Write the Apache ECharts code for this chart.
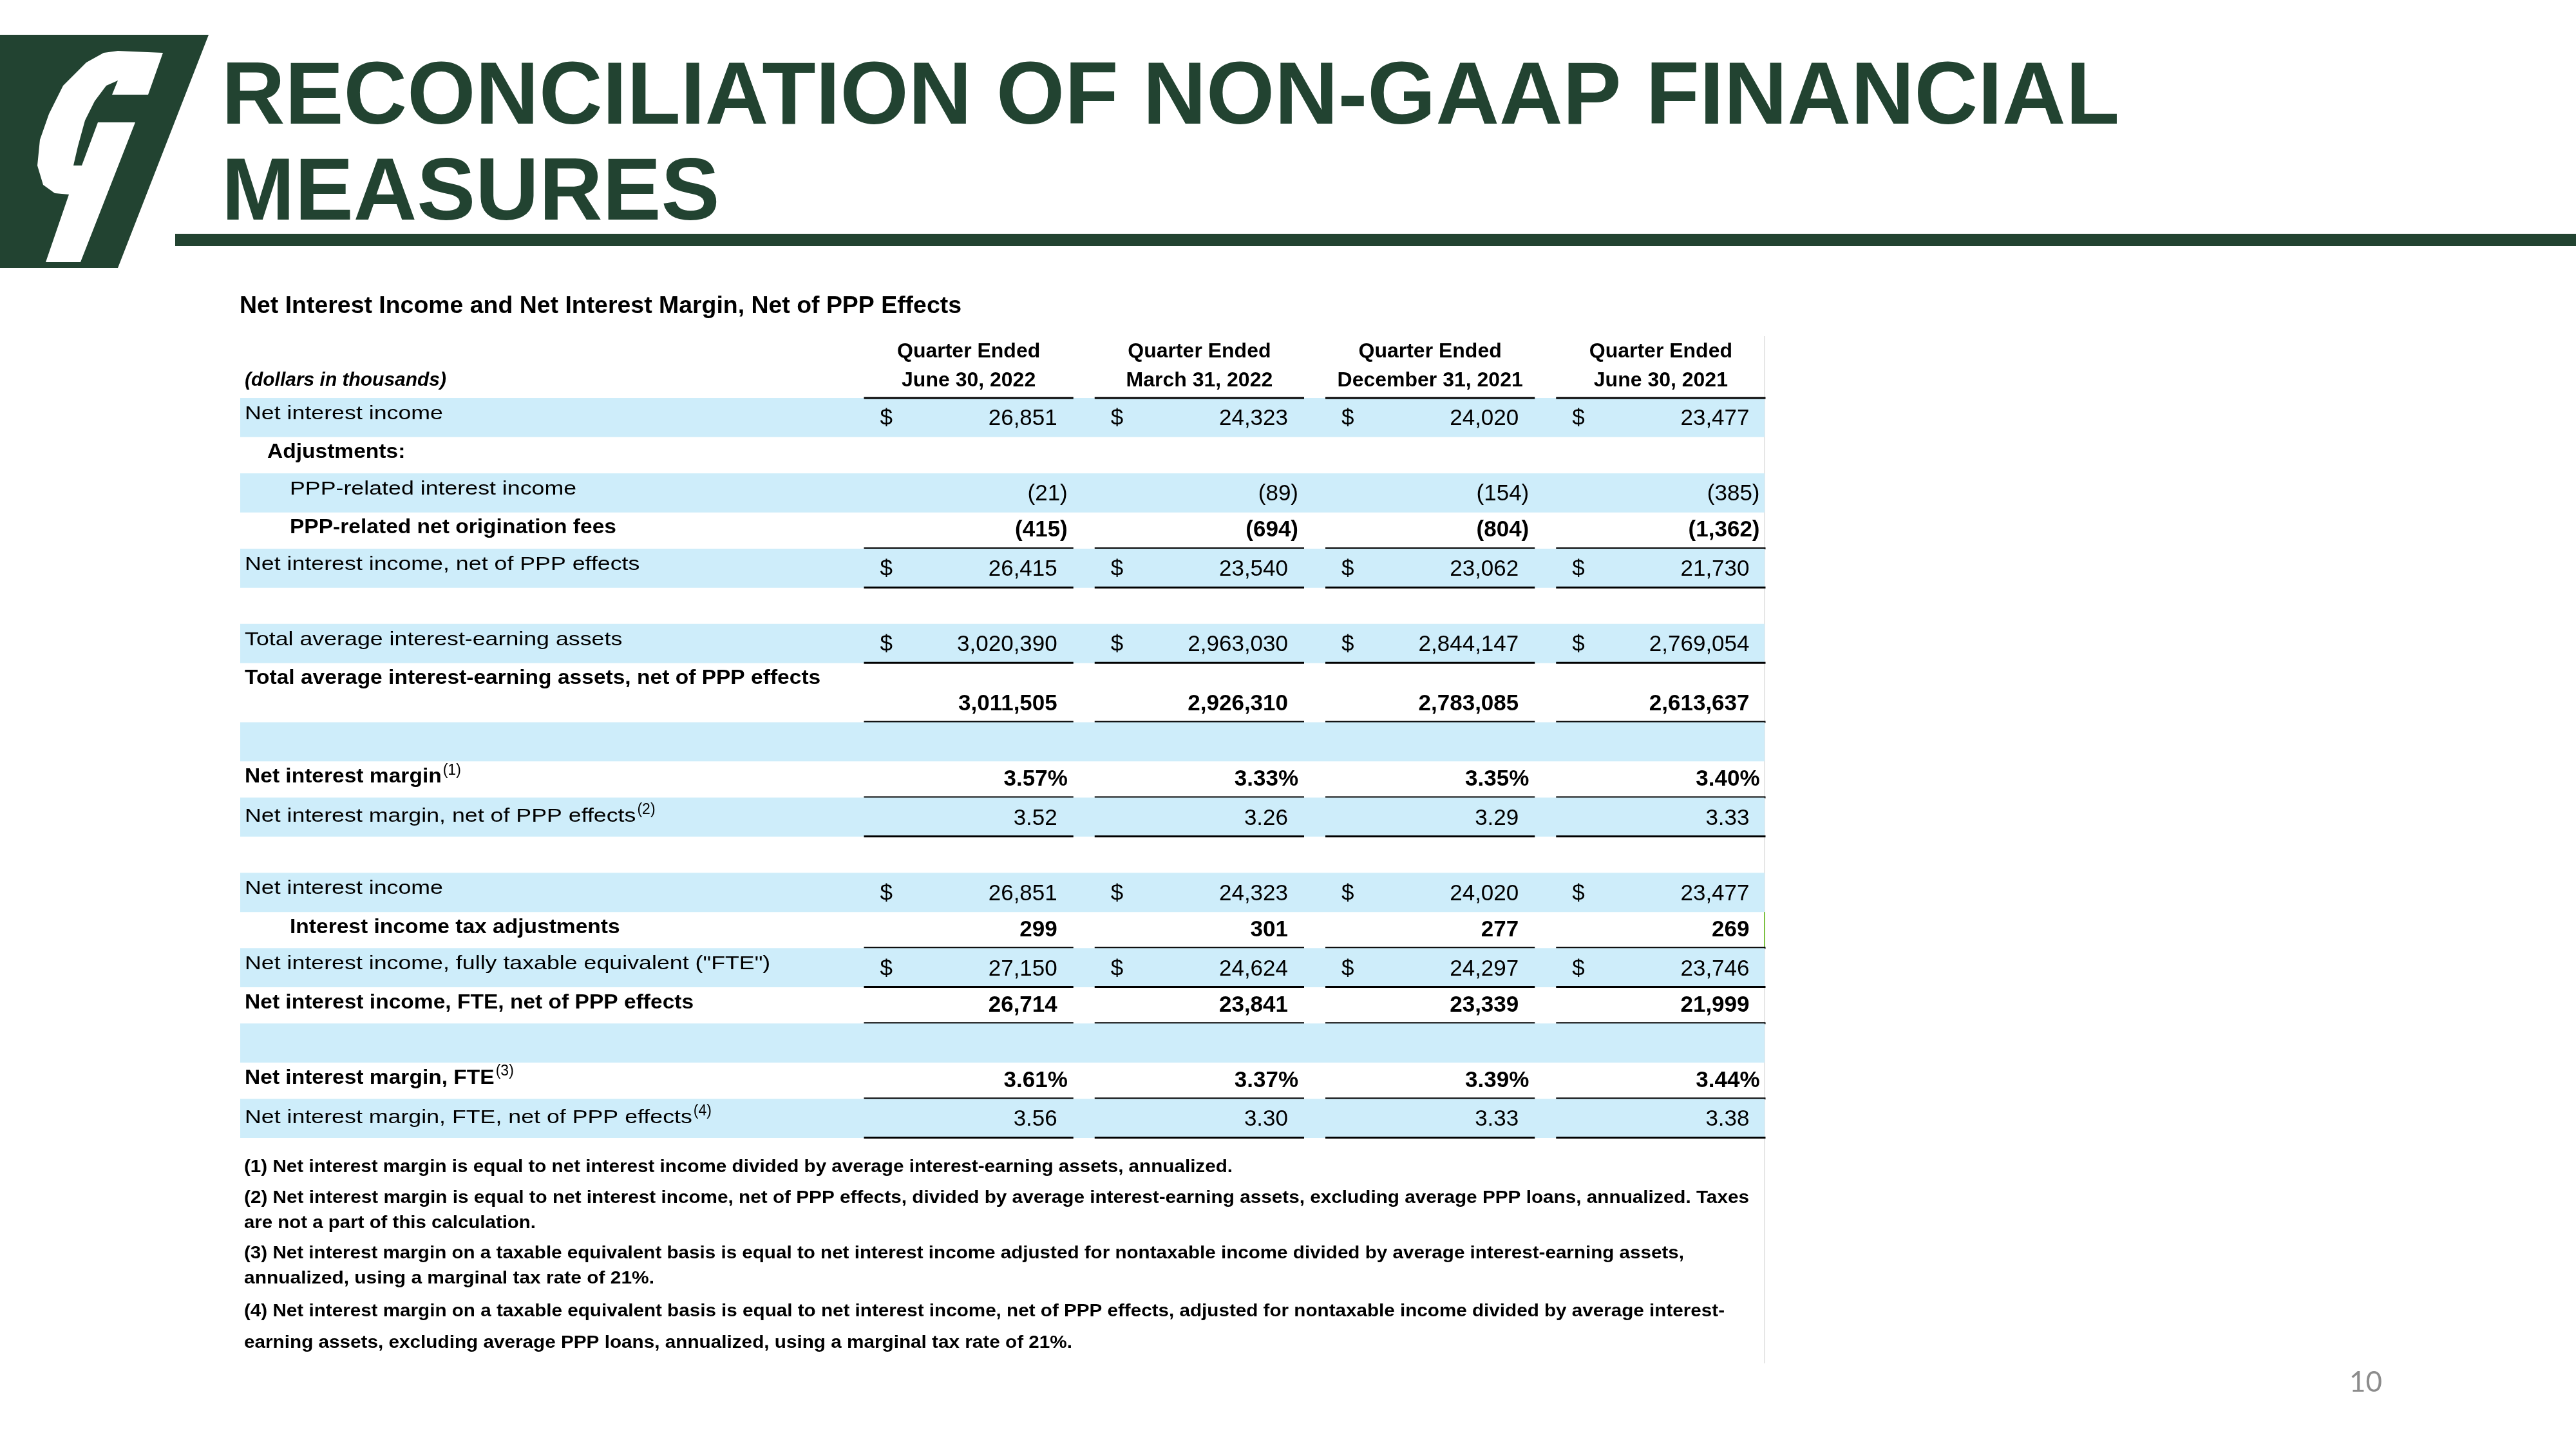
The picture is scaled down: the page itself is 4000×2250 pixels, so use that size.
<!DOCTYPE html>
<html><head><meta charset="utf-8">
<script src="https://cdn.jsdelivr.net/npm/echarts@6/dist/echarts.min.js"></script>
<style>html,body{margin:0;padding:0;background:#fff}#c{width:4000px;height:2250px}</style>
</head><body><div id="c"></div>
<script>
// ---------------- data ----------------
const quarterLabels = ['June 30, 2022', 'March 31, 2022', 'December 31, 2021', 'June 30, 2021'];
const netInterestIncome      = [26851, 24323, 24020, 23477];
const pppInterestIncome      = [-21, -89, -154, -385];
const pppOriginationFees     = [-415, -694, -804, -1362];
const niiNetOfPPP            = [26415, 23540, 23062, 21730];
const avgEarningAssets       = [3020390, 2963030, 2844147, 2769054];
const avgEarningAssetsNetPPP = [3011505, 2926310, 2783085, 2613637];
const nim                    = [3.57, 3.33, 3.35, 3.40];
const nimNetPPP              = [3.52, 3.26, 3.29, 3.33];
const taxAdjustments         = [299, 301, 277, 269];
const niiFTE                 = [27150, 24624, 24297, 23746];
const niiFTENetPPP           = [26714, 23841, 23339, 21999];
const nimFTE                 = [3.61, 3.37, 3.39, 3.44];
const nimFTENetPPP           = [3.56, 3.30, 3.33, 3.38];

const footnotes = [
  '(1) Net interest margin is equal to net interest income divided by average interest-earning assets, annualized.',
  '(2) Net interest margin is equal to net interest income, net of PPP effects, divided by average interest-earning assets, excluding average PPP loans, annualized. Taxes',
  'are not a part of this calculation.',
  '(3) Net interest margin on a taxable equivalent basis is equal to net interest income adjusted for nontaxable income divided by average interest-earning assets,',
  'annualized, using a marginal tax rate of 21%.',
  '(4) Net interest margin on a taxable equivalent basis is equal to net interest income, net of PPP effects, adjusted for nontaxable income divided by average interest-',
  'earning assets, excluding average PPP loans, annualized, using a marginal tax rate of 21%.'
];

// ---------------- formatting ----------------
const fmtNum = v => v < 0 ? '(' + Math.abs(v).toLocaleString('en-US') + ')' : v.toLocaleString('en-US');
const fmtPct = v => v.toFixed(2) + '%';
const fmtDec = v => v.toFixed(2);

// table structure
const rows = [
  {label: 'Net interest income', vals: netInterestIncome, fmt: fmtNum, dollar: true},
  {label: 'Adjustments:', bold: true, indent: 1},
  {label: 'PPP-related interest income', vals: pppInterestIncome, fmt: fmtNum, indent: 2},
  {label: 'PPP-related net origination fees', vals: pppOriginationFees, fmt: fmtNum, bold: true, indent: 2, rule: true},
  {label: 'Net interest income, net of PPP effects', vals: niiNetOfPPP, fmt: fmtNum, dollar: true, rule: true},
  {label: ''},
  {label: 'Total average interest-earning assets', vals: avgEarningAssets, fmt: fmtNum, dollar: true, rule: true},
  {label: 'Total average interest-earning assets, net of PPP effects', vals: avgEarningAssetsNetPPP, fmt: fmtNum, bold: true, rule: true, tall: true},
  {label: ''},
  {label: 'Net interest margin', sup: '(1)', vals: nim, fmt: fmtPct, bold: true, rule: true},
  {label: 'Net interest margin, net of PPP effects', sup: '(2)', vals: nimNetPPP, fmt: fmtDec, rule: true},
  {label: ''},
  {label: 'Net interest income', vals: netInterestIncome, fmt: fmtNum, dollar: true},
  {label: 'Interest income tax adjustments', vals: taxAdjustments, fmt: fmtNum, bold: true, indent: 2, rule: true},
  {label: 'Net interest income, fully taxable equivalent ("FTE")', vals: niiFTE, fmt: fmtNum, dollar: true, rule: true},
  {label: 'Net interest income, FTE, net of PPP effects', vals: niiFTENetPPP, fmt: fmtNum, bold: true, rule: true},
  {label: ''},
  {label: 'Net interest margin, FTE', sup: '(3)', vals: nimFTE, fmt: fmtPct, bold: true, rule: true},
  {label: 'Net interest margin, FTE, net of PPP effects', sup: '(4)', vals: nimFTENetPPP, fmt: fmtDec, rule: true}
];

// ---------------- layout ----------------
const FF = "'Liberation Sans', Arial, sans-serif";
const GREEN = '#224331';
const BAND = '#CEEDFA';
const ctx = document.createElement('canvas').getContext('2d');
function tw(text, weight, size, style) {
  ctx.font = (style || 'normal') + ' ' + (weight || 'normal') + ' ' + size + 'px ' + FF;
  return ctx.measureText(text).width;
}
const REG_SIZE = 29, BOLD_SIZE = 32, NUM_SIZE = 35;
const regScale = 308 / tw('Net interest income', 'normal', REG_SIZE);
const boldScale = 507 / tw('PPP-related net origination fees', 'bold', BOLD_SIZE);

// row extents in row units
let acc = 0;
const rowData = rows.map((r, i) => {
  const h = r.tall ? 1.57 : (i % 2 === 0 ? 1.04 : 0.96);
  const item = [0, acc, acc + h, i];
  acc += h;
  return item;
});
const totalUnits = acc;

function renderItem(params, api) {
  const i = api.value(3);
  const r = rows[i];
  const yTop = api.coord([0, api.value(1)])[1];
  const yBot = api.coord([0, api.value(2)])[1];
  const cs = params.coordSys;
  const children = [];
  const bandL = 373, bandR = cs.x + cs.width - 18;
  if (i % 2 === 0) {
    children.push({type: 'rect', shape: {x: bandL, y: yTop, width: bandR - bandL, height: yBot - yTop}, style: {fill: BAND}});
  }
  const half = api.size([1, 0])[0] / 2 - 16.5;
  // label
  if (r.label) {
    const lx = 380 + (r.indent === 1 ? 35 : r.indent === 2 ? 70 : 0);
    const size = r.bold ? BOLD_SIZE : REG_SIZE;
    const sc = r.bold ? boldScale : regScale;
    const base = yTop + (r.sup && !r.bold ? 40 : 35);
    children.push({type: 'text', x: lx, y: base - 0.35 * size, scaleX: sc,
      style: {text: r.label, fill: '#000', fontFamily: FF, fontSize: size, fontWeight: r.bold ? 'bold' : 'normal', align: 'left', verticalAlign: 'middle'}});
    if (r.sup) {
      const w = tw(r.label, r.bold ? 'bold' : 'normal', size) * sc;
      children.push({type: 'text', x: lx + w + 2, y: base - 21,
        style: {text: r.sup, fill: '#000', fontFamily: FF, fontSize: 23, fontWeight: 'normal', align: 'left', verticalAlign: 'middle'}});
    }
  }
  for (let c = 0; c < 4; c++) {
    const cx = api.coord([c, 0])[0];
    const segL = cx - half, segR = cx + half;
    if (i === 0) {
      children.push({type: 'rect', shape: {x: segL, y: yTop - 1.5, width: segR - segL, height: 3}, style: {fill: '#000'}});
    }
    if (r.vals) {
      const s = r.fmt(r.vals[c]);
      const numY = yBot - 16 - 0.35 * NUM_SIZE;
      const trailing = /[)%]$/.test(s);
      if (r.dollar) {
        children.push({type: 'text', x: segL + 25, y: numY,
          style: {text: '$', fill: '#000', fontFamily: FF, fontSize: NUM_SIZE, fontWeight: r.bold ? 'bold' : 'normal', align: 'left', verticalAlign: 'middle'}});
      }
      children.push({type: 'text', x: trailing ? segR - 9 : segR - 25, y: numY,
        style: {text: s, fill: '#000', fontFamily: FF, fontSize: NUM_SIZE, fontWeight: r.bold ? 'bold' : 'normal', align: 'right', verticalAlign: 'middle'}});
    }
    if (r.rule) {
      children.push({type: 'rect', shape: {x: segL, y: yBot - 2, width: segR - segL, height: 3}, style: {fill: '#000'}});
    }
  }
  return {type: 'group', children: children};
}

// ---------------- static page graphics ----------------
const graphics = [];
graphics.push({type: 'polygon', shape: {points: [[0, 54], [324, 54], [183, 416], [0, 416]]}, style: {fill: GREEN}});
graphics.push({type: 'polygon', shape: {points: [[183, 79], [253, 82], [230, 147], [174, 147], [183, 125], [165, 133], [147, 157], [132, 187], [121, 227], [114, 257], [127, 257], [152, 190], [210, 190], [125, 407], [71, 407], [107, 302], [85, 300], [67, 287], [58, 257], [62, 217], [76, 177], [98, 133], [134, 97], [161, 82]]}, style: {fill: '#fff'}});
const TITLE_SIZE = 137;
const titleScale = 2947 / tw('RECONCILIATION OF NON-GAAP FINANCIAL', 'bold', TITLE_SIZE);
[['RECONCILIATION OF NON-GAAP FINANCIAL', 202], ['MEASURES', 351]].forEach(([t, b]) => {
  graphics.push({type: 'text', x: 344, y: b - 0.35 * TITLE_SIZE, scaleX: titleScale,
    style: {text: t, fill: GREEN, fontFamily: FF, fontSize: TITLE_SIZE, fontWeight: 'bold', align: 'left', verticalAlign: 'middle'}});
});
graphics.push({type: 'rect', shape: {x: 272, y: 363, width: 3728, height: 19}, style: {fill: GREEN}});
// subtitle
const subT = 'Net Interest Income and Net Interest Margin, Net of PPP Effects';
graphics.push({type: 'text', x: 372, y: 489 - 0.35 * 36, scaleX: 1121 / tw(subT, 'bold', 36),
  style: {text: subT, fill: '#000', fontFamily: FF, fontSize: 36, fontWeight: 'bold', align: 'left', verticalAlign: 'middle'}});
const dolT = '(dollars in thousands)';
graphics.push({type: 'text', x: 380, y: 601 - 0.35 * 29, scaleX: 313 / tw(dolT, 'bold', 29, 'italic'),
  style: {text: dolT, fill: '#000', fontFamily: FF, fontSize: 29, fontWeight: 'bold', fontStyle: 'italic', align: 'left', verticalAlign: 'middle'}});
// footnotes
const fnMid = [1813, 1861, 1900, 1947, 1986, 2037, 2086];
const fnWidth = [1535, 2337, 453, 2236, 637, 2299, 1286];
footnotes.forEach((t, k) => {
  graphics.push({type: 'text', x: 379, y: fnMid[k], scaleX: fnWidth[k] / tw(t, 'bold', 27),
    style: {text: t, fill: '#000', fontFamily: FF, fontSize: 27, fontWeight: 'bold', align: 'left', verticalAlign: 'middle'}});
});
// right border lines
graphics.push({type: 'rect', shape: {x: 2739, y: 522, width: 2, height: 1595}, style: {fill: '#E6E6E6'}});
graphics.push({type: 'rect', shape: {x: 2739, y: 1416, width: 2, height: 57}, style: {fill: '#7CC142'}});
// page number
graphics.push({type: 'text', x: 3648, y: 2147,
  style: {text: '10', fill: '#8C8C8C', fontFamily: 'Lato, sans-serif', fontSize: 44, align: 'left', verticalAlign: 'middle'}});

// ---------------- chart ----------------
const chart = echarts.init(document.getElementById('c'), null, {renderer: 'canvas'});
chart.setOption({
  animation: false,
  backgroundColor: '#fff',
  grid: {left: 1325, right: 4000 - 2758, top: 618, height: 1149, containLabel: false},
  xAxis: {
    type: 'category', position: 'top',
    data: quarterLabels.map(q => 'Quarter Ended\n' + q),
    axisLine: {show: false}, axisTick: {show: false}, splitLine: {show: false},
    axisLabel: {interval: 0, color: '#000', fontFamily: FF, fontWeight: 'bold', fontSize: 32, lineHeight: 45, margin: 4}
  },
  yAxis: {type: 'value', min: 0, max: totalUnits, inverse: true, show: false},
  series: [{
    type: 'custom', renderItem: renderItem, clip: false,
    encode: {x: 0, y: 1},
    data: rowData
  }],
  graphic: {elements: graphics}
});
</script></body></html>
